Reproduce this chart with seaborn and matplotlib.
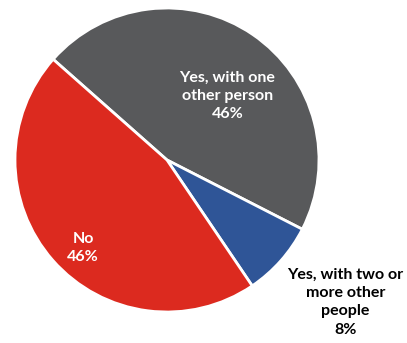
import numpy as np
import matplotlib
matplotlib.use("Agg")
import matplotlib.pyplot as plt
import seaborn as sns

# Data
categories = ["Yes, with one\nother person", "Yes, with two or\nmore other\npeople", "No"]
shares = [46, 8, 46]
colors = ["#58595B", "#2F5597", "#DC2A1F"]
text_colors = ["white", "black", "white"]

sns.set_theme(style="white")
plt.rcParams["font.family"] = ["Lato", "DejaVu Sans"]

fig = plt.figure(figsize=(4.07, 3.43), dpi=100)
ax = fig.add_axes([0, 0, 1, 1])

wedges, _ = ax.pie(shares, colors=colors, startangle=138.5, counterclock=False,
                   radius=1.0, wedgeprops=dict(edgecolor="white", linewidth=2))

# label placement: (radius factor, angle shift in degrees)
placement = [(0.58, -9), (1.50, 3), (0.80, 5)]
for w, name, val, tc, (rf, da) in zip(wedges, categories, shares, text_colors, placement):
    mid = np.deg2rad((w.theta1 + w.theta2) / 2 + da)
    ax.text(rf * np.cos(mid), rf * np.sin(mid), f"{name}\n{val}%",
            ha="center", va="center", color=tc, fontsize=11.5, fontweight="bold",
            linespacing=1.4)

# axes limits so the pie sits where it does in the original
r_px = 152
cx, cy = 167, 160
ax.set_xlim(-cx / r_px, (407 - cx) / r_px)
ax.set_ylim(-(343 - cy) / r_px, cy / r_px)
ax.set_aspect("equal")
ax.axis("off")

fig.savefig("out.png", dpi=100)
